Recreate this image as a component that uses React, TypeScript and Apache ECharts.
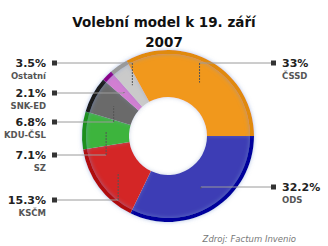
import React, { useEffect, useRef } from "react";
import * as echarts from "echarts";

// ---- data ----
const parties = ["ODS", "KSČM", "SZ", "KDU-ČSL", "SNK-ED", "Ostatní", "ČSSD"];
const shares = [32.2, 15.3, 7.1, 6.8, 2.1, 3.5, 33];
const titleText = "Volební model k 19. září\n2007";
const sourceNote = "Zdroj: Factum Invenio";

// ---- styles / layout ----
const fillColors = ["#3d3db5", "#d42626", "#3cb43c", "#6b6b6b", "#d27ed2", "#cacaca", "#f1981f"];
const edgeColors = ["#00009c", "#b01010", "#1f8f1f", "#1c1c1c", "#8a008a", "#9a9a9a", "#e08a10"];
const CX = 168;
const CY = 136;
const R_IN = 39;
const R_OUT = 86;
const ANCHOR_R = 62;
const labelRowY = [187, 200, 155, 122, 93, 63, 63];
const LEFT_X = 57;
const RIGHT_X = 271;
const FONT = "DejaVu Sans, Verdana, sans-serif";

const total = shares.reduce((a, b) => a + b, 0);
const midAngles: number[] = [];
{
  let cum = 0;
  for (const s of shares) {
    midAngles.push((-(cum + s / 2) * 360) / total);
    cum += s;
  }
}
const isRight = (i: number) => Math.cos((midAngles[i] * Math.PI) / 180) > 0;
const anchorOf = (i: number) => {
  const a = (midAngles[i] * Math.PI) / 180;
  return [CX + ANCHOR_R * Math.cos(a), CY - ANCHOR_R * Math.sin(a)];
};

export default function App() {
  const ref = useRef<HTMLDivElement>(null);
  useEffect(() => {
    const chart = echarts.init(ref.current!, undefined, { renderer: "svg" });
    const pctL = { fontFamily: FONT, fontSize: 11, fontWeight: "bold", color: "#222", lineHeight: 14, align: "right" };
    const nameL = { fontFamily: FONT, fontSize: 8.5, fontWeight: "bold", color: "#555", lineHeight: 12, align: "right" };
    const rich: any = {
      vL: pctL,
      pL: { width: 6, lineHeight: 14, align: "right" },
      sL: { width: 5, height: 5, backgroundColor: "#333", lineHeight: 14, align: "right" },
      nL: nameL,
      gL: { width: 11, lineHeight: 12, align: "right" },
      vR: { ...pctL, align: "left" },
      pR: { width: 6, lineHeight: 14 },
      sR: { width: 5, height: 5, backgroundColor: "#333", lineHeight: 14 },
      nR: { ...nameL, align: "left" },
      gR: { width: 11, lineHeight: 12 },
    };
    chart.setOption({
      animation: false,
      title: [
        {
          text: titleText,
          left: "center",
          top: 7,
          textStyle: { fontFamily: FONT, fontSize: 13.5, fontWeight: "bold", color: "#111", lineHeight: 20 },
        },
        {
          text: sourceNote,
          right: 27,
          top: 229,
          textStyle: { fontFamily: FONT, fontSize: 8.5, fontStyle: "italic", fontWeight: "normal", color: "#777" },
        },
      ],
      series: [
        {
          type: "pie",
          silent: true,
          z: 3,
          center: [CX, CY],
          radius: [R_OUT - 4, R_OUT],
          startAngle: 0,
          clockwise: true,
          label: { show: false },
          labelLine: { show: false },
          itemStyle: { shadowBlur: 4, shadowColor: "rgba(120,150,210,0.55)" },
          data: parties.map((p, i) => ({ name: p, value: shares[i], itemStyle: { color: edgeColors[i] } })),
        },
        {
          type: "pie",
          silent: true,
          z: 2,
          center: [CX, CY],
          radius: [R_IN, R_OUT - 3],
          startAngle: 0,
          clockwise: true,
          avoidLabelOverlap: false,
          itemStyle: { shadowBlur: 4, shadowColor: "rgba(130,150,190,0.45)" },
          data: parties.map((p, i) => ({ name: p, value: shares[i], itemStyle: { color: fillColors[i] } })),
          label: {
            show: true,
            position: "outside",
            rich,
            formatter: (p: any) =>
              isRight(p.dataIndex)
                ? `{sR| }{pR| }{vR|${p.value}%}\n{gR| }{nR|${p.name}}`
                : `{vL|${p.value}%}{pL| }{sL| }\n{nL|${p.name}}{gL| }`,
          },
          labelLine: { show: false },
          labelLayout: (params: any) => {
            const i = params.dataIndex;
            const right = isRight(i);
            return {
              x: right ? RIGHT_X : LEFT_X,
              y: labelRowY[i] - 7,
              align: right ? "left" : "right",
              verticalAlign: "top",
            };
          },
        },
        {
          type: "custom",
          coordinateSystem: "none",
          silent: true,
          z: 5,
          data: shares,
          renderItem: (params: any) => {
            const i = params.dataIndex;
            const [ax, ay] = anchorOf(i);
            const ly = labelRowY[i];
            const lx = isRight(i) ? RIGHT_X : LEFT_X;
            return {
              type: "group",
              children: [
                {
                  type: "line",
                  shape: { x1: lx, y1: ly, x2: ax, y2: ly },
                  style: { stroke: "#9a9a9a", lineWidth: 1 },
                },
                {
                  type: "line",
                  shape: { x1: ax, y1: ly, x2: ax, y2: ay },
                  style: { stroke: "#555", lineWidth: 1, lineDash: [2, 1] },
                },
              ],
            };
          },
        },
      ],
    });
    return () => chart.dispose();
  }, []);
  return <div ref={ref} style={{ position: "fixed", left: 0, top: 0, width: 328, height: 246, background: "#fff" }} />;
}
